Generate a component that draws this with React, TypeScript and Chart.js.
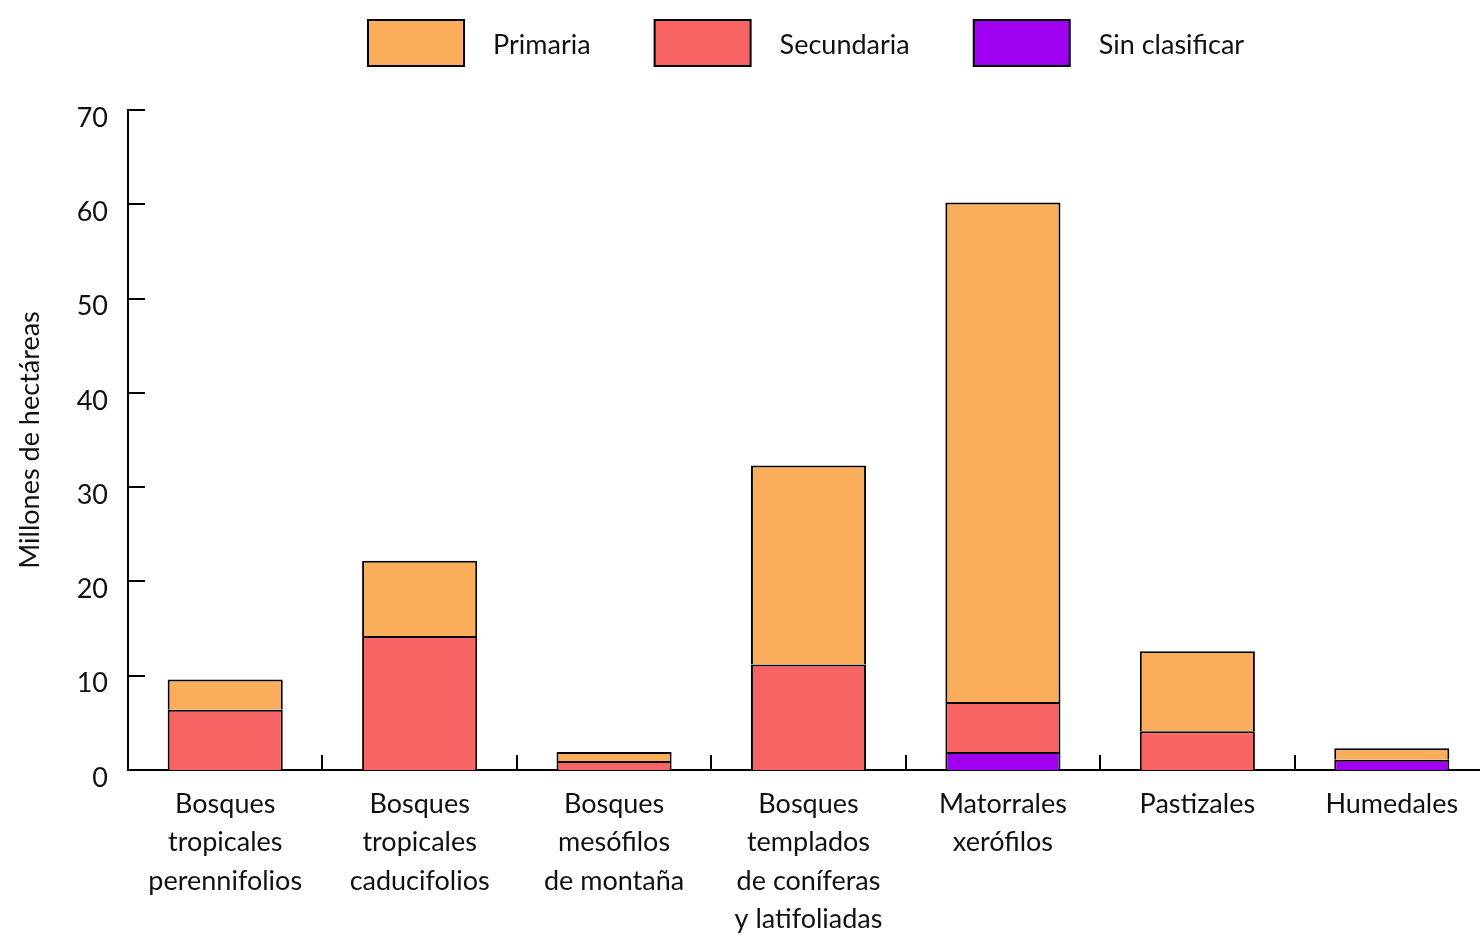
import React, { useEffect, useRef } from "react";
import { Chart, registerables } from "chart.js";

Chart.register(...registerables);

const categories: string[][] = [
  ["Bosques", "tropicales", "perennifolios"],
  ["Bosques", "tropicales", "caducifolios"],
  ["Bosques", "mesófilos", "de montaña"],
  ["Bosques", "templados", "de coníferas", "y latifoliadas"],
  ["Matorrales", "xerófilos"],
  ["Pastizales"],
  ["Humedales"],
];

const sinClasificar: (number | null)[] = [null, null, null, null, 1.9, null, 1.1];
const secundaria: (number | null)[] = [6.4, 14.2, 0.95, 11.2, 5.3, 4.1, null];
const primaria: (number | null)[] = [3.2, 8.0, 0.95, 21.1, 53.0, 8.5, 1.2];

const yTicks: number[] = [0, 10, 20, 30, 40, 50, 60, 70];

const FONT = "Lato, 'Open Sans', sans-serif";
const C_PRIM = "#FAAE5B";
const C_SEC = "#F76463";
const C_SIN = "#A000F0";

const legendItems = [
  { label: "Primaria", color: C_PRIM },
  { label: "Secundaria", color: C_SEC },
  { label: "Sin clasificar", color: C_SIN },
];

const axisPlugin = {
  id: "inwardTicks",
  afterDraw(chart: any) {
    const ctx = chart.ctx;
    const x = chart.scales.x;
    const y = chart.scales.y;
    const area = chart.chartArea;
    ctx.save();
    ctx.strokeStyle = "#000";
    ctx.lineWidth = 2;
    ctx.beginPath();
    for (let i = 1; i < categories.length; i++) {
      const px = Math.round((x.getPixelForTick(i - 1) + x.getPixelForTick(i)) / 2);
      ctx.moveTo(px, area.bottom - 15);
      ctx.lineTo(px, area.bottom);
    }
    for (const v of yTicks) {
      const py = Math.round(y.getPixelForValue(v));
      ctx.moveTo(area.left, py);
      ctx.lineTo(area.left + 17, py);
    }
    ctx.stroke();

    // legend
    ctx.font = `27px ${FONT}`;
    ctx.textBaseline = "middle";
    let cx = 368;
    for (const it of legendItems) {
      ctx.fillStyle = it.color;
      ctx.fillRect(cx, 20, 96, 46);
      ctx.strokeStyle = "#000";
      ctx.lineWidth = 2;
      ctx.strokeRect(cx, 20, 96, 46);
      ctx.fillStyle = "#111";
      const tx = cx + 96 + 29;
      ctx.fillText(it.label, tx, 45);
      cx = tx + ctx.measureText(it.label).width + 64;
    }
    ctx.restore();
  },
};

export default function App() {
  const ref = useRef<HTMLCanvasElement | null>(null);
  useEffect(() => {
    if (!ref.current) return;
    const chart = new Chart(ref.current, {
      type: "bar",
      data: {
        labels: categories,
        datasets: [
          { label: "Sin clasificar", data: sinClasificar, backgroundColor: C_SIN },
          { label: "Secundaria", data: secundaria, backgroundColor: C_SEC },
          { label: "Primaria", data: primaria, backgroundColor: C_PRIM },
        ].map((d) => ({
          ...d,
          borderColor: "#000",
          borderWidth: { top: 2, left: 2, right: 2, bottom: 0 },
          borderSkipped: false,
          categoryPercentage: 1,
          barPercentage: 0.592,
        })) as any,
      },
      options: {
        animation: false,
        responsive: true,
        maintainAspectRatio: false,
        layout: { padding: { top: 110, left: 0, right: 0, bottom: 0 } },
        plugins: { legend: { display: false }, tooltip: { enabled: false } },
        scales: {
          x: {
            stacked: true,
            offset: true,
            grid: { display: false, drawTicks: false },
            border: { display: true, color: "#000", width: 2 },
            ticks: {
              color: "#111",
              font: { family: FONT, size: 27, lineHeight: 1.42 } as any,
              padding: 15,
              maxRotation: 0,
              autoSkip: false,
            },
            afterFit: (s: any) => {
              s.height = 167;
            },
          },
          y: {
            stacked: true,
            min: 0,
            max: 70,
            afterBuildTicks: (s: any) => {
              s.ticks = yTicks.map((v) => ({ value: v }));
            },
            grid: { display: false, drawTicks: false },
            border: { display: true, color: "#000", width: 2 },
            ticks: {
              color: "#111",
              font: { family: FONT, size: 27 },
              padding: 20,
              labelOffset: 8,
            },
            title: {
              display: true,
              text: "Millones de hectáreas",
              color: "#111",
              font: { family: FONT, size: 27 },
              padding: { top: 14, bottom: 0 },
            },
            afterFit: (s: any) => {
              s.width = 128;
            },
          },
        },
      },
      plugins: [axisPlugin],
    });
    return () => chart.destroy();
  }, []);
  return (
    <div style={{ position: "absolute", left: 0, top: 0, width: 1480, height: 937, overflow: "hidden", background: "#fff" }}>
      <div style={{ position: "relative", width: 1489, height: 937 }}>
        <canvas ref={ref} />
      </div>
    </div>
  );
}
